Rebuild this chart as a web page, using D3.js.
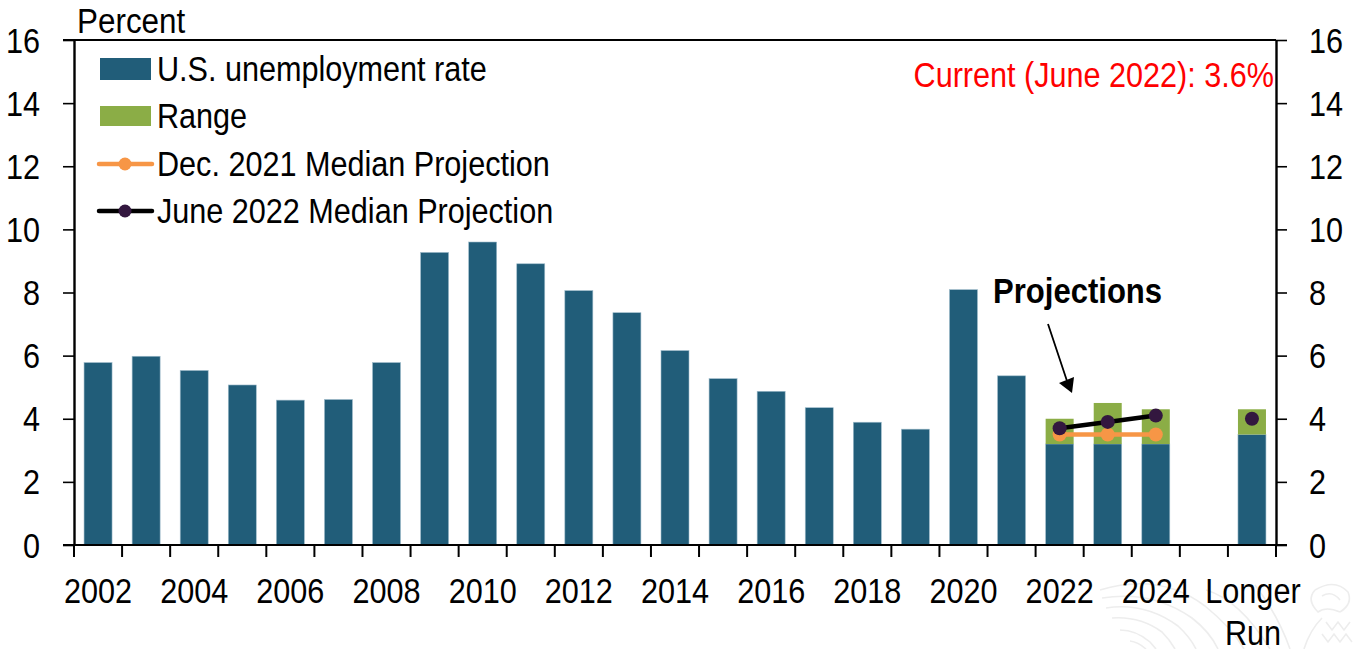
<!DOCTYPE html>
<html><head><meta charset="utf-8">
<script src="https://d3js.org/d3.v7.min.js"></script>
<style>html,body{margin:0;padding:0;background:#fff}svg{display:block}text{font-family:"Liberation Sans",Arial,sans-serif;fill:#000}</style>
</head><body><svg id="c" width="1355" height="649"></svg>
<script>
const categories=["2002","2003","2004","2005","2006","2007","2008","2009","2010","2011","2012","2013","2014","2015","2016","2017","2018","2019","2020","2021","2022","2023","2024","","Longer Run"];
const xTickLabels=["2002","2004","2006","2008","2010","2012","2014","2016","2018","2020","2022","2024"];
const yTicks=[0,2,4,6,8,10,12,14,16];
const unemployment=[5.78,5.98,5.53,5.07,4.59,4.61,5.78,9.27,9.6,8.91,8.06,7.36,6.16,5.27,4.87,4.35,3.89,3.67,8.09,5.36,3.2,3.2,3.2,null,3.5];
const rangeHigh=[null,null,null,null,null,null,null,null,null,null,null,null,null,null,null,null,null,null,null,null,4.0,4.5,4.3,null,4.3];
const dec2021=[["2022",3.5],["2023",3.5],["2024",3.5]];
const june2022=[["2022",3.7],["2023",3.9],["2024",4.1]];
const june2022LongerRun=[["Longer Run",4.0]];
const legendLabels=["U.S. unemployment rate","Range","Dec. 2021 Median Projection","June 2022 Median Projection"];
const C={bar:"#215D79",range:"#8BAD46",dec:"#F79646",june:"#33173F"};

const svg=d3.select("#c");
const L=74,R=1276,T=40,B=545;
const x=d3.scaleBand().domain(categories.map((d,i)=>d||"_blank")).range([L,R]).paddingInner(0).paddingOuter(0);
const y=d3.scaleLinear().domain([0,16]).range([B,T]);
const bw=28;
const cx=k=>x(k)+x.bandwidth()/2;
const FS=35.5, SX=0.862;
function label(px,py,t,opt={}){
 const n=svg.append("text").attr("transform",`translate(${px},${py}) scale(${opt.sx||SX},1)`)
  .attr("text-anchor",opt.anchor||"start").attr("font-size",FS).text(t);
 if(opt.weight)n.attr("font-weight",opt.weight);
 if(opt.fill)n.style("fill",opt.fill);
 return n;
}

// watermark
const wm=["M1100,590 Q1160,572 1205,606 Q1232,628 1244,649","M1102,598 Q1152,590 1192,618 Q1210,632 1218,649","M1106,608 Q1145,602 1178,626 Q1190,637 1196,649","M1112,618 Q1140,616 1162,632 Q1170,640 1175,649","M1120,630 Q1136,630 1150,642 L1156,649","M1130,641 Q1138,642 1146,649","M1206,590 Q1240,600 1270,649","M1255,585 Q1278,615 1290,649","M1315,590 Q1335,578 1348,592 Q1353,604 1340,612","M1315,590 Q1306,600 1318,612 Q1326,606 1340,612","M1322,596 Q1332,590 1340,600","M1304,649 Q1310,630 1322,618","M1326,622 L1332,630 L1338,622 L1344,630 L1350,622","M1322,634 L1328,642 L1334,634 L1340,642 L1346,634 L1352,642"];
svg.append("g").attr("fill","none").attr("stroke","#ededed").attr("stroke-width",1.6).selectAll("path").data(wm).join("path").attr("d",d=>d);

// bars
svg.append("g").selectAll("rect").data(categories.map((c,i)=>({c,v:unemployment[i]})).filter(d=>d.v!=null)).join("rect")
 .attr("x",d=>cx(d.c)-bw/2).attr("width",bw).attr("y",d=>y(d.v)).attr("height",d=>B-y(d.v)).attr("fill",C.bar).attr("stroke","#9fbccb").attr("stroke-width",0.6);
svg.append("g").selectAll("rect").data(categories.map((c,i)=>({c,lo:unemployment[i],hi:rangeHigh[i]})).filter(d=>d.hi!=null)).join("rect")
 .attr("x",d=>cx(d.c)-bw/2).attr("width",bw).attr("y",d=>y(d.hi)).attr("height",d=>y(d.lo)-y(d.hi)).attr("fill",C.range);

// axes
svg.append("g").attr("transform",`translate(${L},0)`).call(d3.axisLeft(y).tickValues(yTicks).tickSize(11).tickSizeOuter(0).tickFormat(""));
svg.append("g").attr("transform",`translate(${R},0)`).call(d3.axisRight(y).tickValues(yTicks).tickSize(11).tickSizeOuter(0).tickFormat(""));
const xa=svg.append("g").attr("transform",`translate(0,${B})`);
xa.append("line").attr("x1",L-11).attr("x2",R+11).attr("y1",0).attr("y2",0);
xa.selectAll(".t").data(d3.range(0,categories.length+1)).join("line").attr("class","t")
 .attr("x1",i=>L+i*x.bandwidth()).attr("x2",i=>L+i*x.bandwidth()).attr("y1",0).attr("y2",12);
svg.append("line").attr("x1",L-11).attr("x2",R).attr("y1",T).attr("y2",T).attr("stroke","#000").attr("stroke-width",2);
svg.selectAll("g path.domain").attr("stroke","#000").attr("stroke-width",2.4);
svg.selectAll("g .tick line").attr("stroke","#000").attr("stroke-width",1.6);
xa.selectAll("line").attr("stroke","#000").attr("stroke-width",2);

// tick labels
yTicks.forEach(v=>{
 label(40,y(v)+12.5,v,{anchor:"end"});
 label(1309,y(v)+12.5,v);
});
xTickLabels.forEach(l=>label(cx(l),603,l,{anchor:"middle"}));
const lr=cx("Longer Run");
label(lr+1,603,"Longer",{anchor:"middle"});
label(lr+1,645,"Run",{anchor:"middle"});
label(77,33,"Percent",{sx:0.885});

// lines
const line=d3.line().x(d=>cx(d[0])).y(d=>y(d[1]));
svg.append("path").attr("d",line(dec2021)).attr("fill","none").attr("stroke",C.dec).attr("stroke-width",4.5);
svg.append("g").selectAll("circle").data(dec2021).join("circle").attr("cx",d=>cx(d[0])).attr("cy",d=>y(d[1])).attr("r",7).attr("fill",C.dec);
svg.append("path").attr("d",line(june2022)).attr("fill","none").attr("stroke","#000").attr("stroke-width",4.5);
svg.append("g").selectAll("circle").data(june2022.concat(june2022LongerRun)).join("circle").attr("cx",d=>cx(d[0])).attr("cy",d=>y(d[1])).attr("r",7).attr("fill",C.june);

// legend
const ly=[69,116,164,211];
svg.append("rect").attr("x",100).attr("y",ly[0]-11).attr("width",51).attr("height",22).attr("fill",C.bar);
svg.append("rect").attr("x",100).attr("y",ly[1]-10).attr("width",51).attr("height",20).attr("fill",C.range);
[[2,C.dec,C.dec],[3,"#000",C.june]].forEach(([i,s,f])=>{
 svg.append("line").attr("x1",99).attr("x2",152).attr("y1",ly[i]).attr("y2",ly[i]).attr("stroke",s).attr("stroke-width",4.5).attr("stroke-linecap","round");
 svg.append("circle").attr("cx",125).attr("cy",ly[i]).attr("r",6.5).attr("fill",f);
});
legendLabels.forEach((t,i)=>label(157,ly[i]+12,t));

// annotations
label(1274,87,"Current (June 2022): 3.6%",{anchor:"end",fill:"#FF0000"});
label(993,303,"Projections",{weight:"bold",sx:0.875});
svg.append("line").attr("x1",1048).attr("y1",324).attr("x2",1067).attr("y2",381).attr("stroke","#000").attr("stroke-width",1.8);
svg.append("path").attr("d","M1059,383 L1074,377 L1072,393 Z").attr("fill","#000");
</script></body></html>
